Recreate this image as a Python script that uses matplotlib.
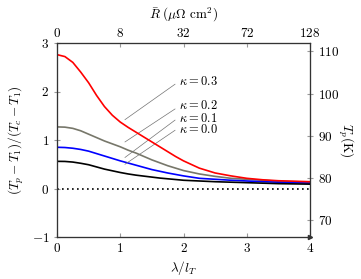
import numpy as np
import matplotlib
matplotlib.use("Agg")
import matplotlib.pyplot as plt

plt.rcParams['mathtext.fontset'] = 'cm'
plt.rcParams['font.family'] = 'serif'
plt.rcParams['font.serif'] = ['DejaVu Serif']
plt.rcParams['font.size'] = 9.5

# donnees
lam = [0, 0.125, 0.25, 0.375, 0.5, 0.625, 0.75, 0.875, 1.0, 1.125, 1.25, 1.375, 1.5,
       1.625, 1.75, 1.875, 2.0, 2.25, 2.5, 2.75, 3.0, 3.25, 3.5, 3.75, 4.0]
k03 = [2.76, 2.72, 2.60, 2.40, 2.18, 1.92, 1.69, 1.51, 1.37, 1.26, 1.16, 1.06, 0.96,
       0.86, 0.76, 0.66, 0.57, 0.42, 0.32, 0.26, 0.21, 0.18, 0.16, 0.15, 0.14]
k02 = [1.27, 1.265, 1.24, 1.19, 1.12, 1.05, 0.98, 0.92, 0.86, 0.79, 0.73, 0.66, 0.59,
       0.53, 0.47, 0.42, 0.37, 0.30, 0.25, 0.21, 0.19, 0.17, 0.15, 0.14, 0.13]
k01 = [0.85, 0.845, 0.83, 0.805, 0.77, 0.72, 0.67, 0.62, 0.57, 0.525, 0.48, 0.435, 0.39,
       0.355, 0.32, 0.29, 0.26, 0.21, 0.19, 0.17, 0.155, 0.14, 0.13, 0.12, 0.11]
k00 = [0.56, 0.558, 0.545, 0.52, 0.49, 0.445, 0.40, 0.365, 0.33, 0.30, 0.275, 0.255, 0.235,
       0.215, 0.20, 0.185, 0.17, 0.155, 0.14, 0.13, 0.12, 0.11, 0.10, 0.095, 0.09]

kappa_txt = [r'$\kappa = 0.3$', r'$\kappa = 0.2$', r'$\kappa = 0.1$', r'$\kappa = 0.0$']
# traits des etiquettes: debut (x, y) et fin (x, y)
lbl_start = [(1.075, 1.42), (1.075, 0.96), (1.075, 0.64), (1.075, 0.50)]
lbl_end = [(1.866, 2.15), (1.866, 1.64), (1.866, 1.41), (1.866, 1.20)]
lbl_text_y = [2.20, 1.72, 1.45, 1.21]

x_ticks = [0, 1, 2, 3, 4]
r_ticks = ['0', '8', '32', '72', '128']
y_ticks = [-1, 0, 1, 2, 3]
tp_ticks = [70, 80, 90, 100, 110]

fig = plt.figure(figsize=(3.61, 2.79), dpi=100)
ax = fig.add_axes([57/361, 42/279, 253/361, 194/279])

ax.plot(lam, k03, color='red', lw=1.2, zorder=5)
ax.plot(lam, k02, color='#77776a', lw=1.2)
ax.plot(lam, k01, color='blue', lw=1.2)
ax.plot(lam, k00, color='black', lw=1.2)
ax.axhline(0, color='black', ls=(0, (1, 2)), lw=1.2)

for t, s, e, ty in zip(kappa_txt, lbl_start, lbl_end, lbl_text_y):
    ax.plot([s[0], e[0]], [s[1], e[1]], color='0.45', lw=0.5)
    ax.text(e[0] + 0.07, ty, t, ha='left', va='center', fontsize=9)

ax.set_xlim(0, 4)
ax.set_ylim(-1, 3)
ax.set_xticks(x_ticks)
ax.set_xticklabels(['$%d$' % v for v in x_ticks])
ax.set_yticks(y_ticks)
ax.set_yticklabels(['$%d$' % v for v in y_ticks])
ax.tick_params(axis='x', direction='in', length=3, color='0.6')
ax.tick_params(axis='y', direction='inout', length=4, color='0.6')
ax.set_xlabel(r'$\lambda/l_T$', labelpad=3)
ax.set_ylabel(r'$(T_p - T_1)/(T_c - T_1)$', labelpad=4)
for sp in ax.spines.values():
    sp.set_color('0.2')
    sp.set_linewidth(0.8)
ax.plot(1, 0, '>', color='0.2', ms=3, transform=ax.transAxes, clip_on=False)

# axe de droite: temperature
ax2 = ax.twinx()
ax2.set_ylim(66.0, 112.0)
ax2.set_yticks(tp_ticks)
ax2.set_yticklabels(['$%d$' % v for v in tp_ticks])
ax2.tick_params(axis='y', direction='inout', length=4, color='0.6')
ax2.set_ylabel(r'$T_p(\mathrm{K})$', rotation=-90, labelpad=12)
for sp in ax2.spines.values():
    sp.set_color('0.2')
    sp.set_linewidth(0.8)

# axe du haut: resistance
ax3 = ax.twiny()
ax3.set_xlim(0, 4)
ax3.set_xticks(x_ticks)
ax3.set_xticklabels(['$%s$' % v for v in r_ticks])
ax3.tick_params(axis='x', direction='in', length=3, color='0.6', pad=2)
ax3.set_xlabel(r'$\bar{R}\ (\mathrm{\mu\Omega\ cm^2})$', labelpad=6)
for sp in ax3.spines.values():
    sp.set_color('0.2')
    sp.set_linewidth(0.8)

fig.savefig('out.png', dpi=100)
